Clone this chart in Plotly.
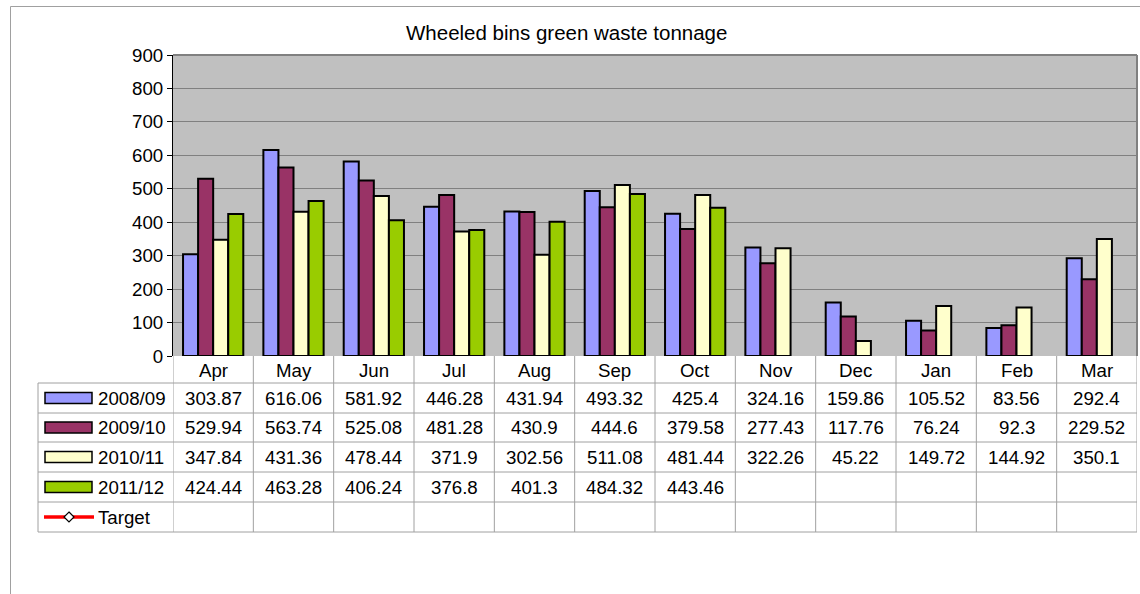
import plotly.graph_objects as go

months = ["Apr", "May", "Jun", "Jul", "Aug", "Sep", "Oct", "Nov", "Dec", "Jan", "Feb", "Mar"]
s2008 = [303.87, 616.06, 581.92, 446.28, 431.94, 493.32, 425.4, 324.16, 159.86, 105.52, 83.56, 292.4]
s2009 = [529.94, 563.74, 525.08, 481.28, 430.9, 444.6, 379.58, 277.43, 117.76, 76.24, 92.3, 229.52]
s2010 = [347.84, 431.36, 478.44, 371.9, 302.56, 511.08, 481.44, 322.26, 45.22, 149.72, 144.92, 350.1]
s2011 = [424.44, 463.28, 406.24, 376.8, 401.3, 484.32, 443.46, None, None, None, None, None]
series_names = ["2008/09", "2009/10", "2010/11", "2011/12"]
series_vals = [s2008, s2009, s2010, s2011]
colors = ["#9999FF", "#993366", "#FFFFCC", "#99CC00"]
y_ticks = [0, 100, 200, 300, 400, 500, 600, 700, 800, 900]

W, H = 1140, 594
L, R, T, B = 173, 3, 55, 238
PW = W - L - R
PH = H - T - B

def py(pix):
    return (H - B - pix) / PH

def px(pix):
    return (pix - L) / PW

FONT = "Liberation Sans, Arial, sans-serif"
FS = 18.7

fig = go.Figure()
for name, vals, c in zip(series_names, series_vals, colors):
    fig.add_trace(go.Bar(x=months, y=vals, name=name, marker=dict(color=c, line=dict(color="black", width=2)),
                         showlegend=False))

shapes = []
annotations = []

def txt(x, y, text, xref="paper", xanchor="center", size=FS):
    annotations.append(dict(x=x, y=y, xref=xref, yref="paper", text=text, showarrow=False,
                            xanchor=xanchor, yanchor="middle",
                            font=dict(size=size, color="black", family=FONT)))

# outer border
shapes.append(dict(type="rect", xref="paper", yref="paper", x0=px(10.5), x1=px(1141), y0=py(596), y1=py(6.5),
                   line=dict(color="#A0A0A0", width=1), fillcolor="rgba(0,0,0,0)", layer="below"))

# plot-area frame (top and right)
shapes.append(dict(type="line", xref="paper", yref="paper", x0=0, x1=1, y0=1, y1=1,
                   line=dict(color="#808080", width=2)))
shapes.append(dict(type="line", xref="paper", yref="paper", x0=1, x1=1, y0=0, y1=1,
                   line=dict(color="#808080", width=2)))

grid_col = "#A0A0A0"
row_lines = [383, 413, 442, 472, 502, 532]
for yl in row_lines:
    shapes.append(dict(type="line", xref="paper", yref="paper", x0=px(38), x1=px(1137), y0=py(yl), y1=py(yl),
                       line=dict(color=grid_col, width=1)))
# left border of table
shapes.append(dict(type="line", xref="paper", yref="paper", x0=px(38), x1=px(38), y0=py(383), y1=py(532),
                   line=dict(color=grid_col, width=1)))
# column boundaries
for i in range(len(months) + 1):
    shapes.append(dict(type="line", xref="x", yref="paper", x0=i - 0.5, x1=i - 0.5, y0=py(356), y1=py(532),
                       line=dict(color=grid_col, width=1)))

# month header
for m in months:
    txt(m, py(370), m, xref="x")

row_centers = [398, 427.5, 457, 487, 517]
for r, (name, vals, c) in enumerate(zip(series_names, series_vals, colors)):
    yc = row_centers[r]
    for m, v in zip(months, vals):
        if v is not None:
            txt(m, py(yc), f"{v:g}", xref="x")
    shapes.append(dict(type="rect", xref="paper", yref="paper", x0=px(45), x1=px(92), y0=py(yc + 5.5), y1=py(yc - 5.5),
                       fillcolor=c, line=dict(color="black", width=1.5)))
    txt(px(96), py(yc), name, xanchor="left")

# Target legend entry
yc = row_centers[4]
shapes.append(dict(type="line", xref="paper", yref="paper", x0=px(44), x1=px(94), y0=py(yc), y1=py(yc),
                   line=dict(color="red", width=3.5)))
shapes.append(dict(type="path", xref="paper", yref="paper",
                   path=f"M {px(69)},{py(yc-5)} L {px(74)},{py(yc)} L {px(69)},{py(yc+5)} L {px(64)},{py(yc)} Z",
                   fillcolor="white", line=dict(color="black", width=1.2)))
txt(px(96), py(yc), "Target", xanchor="left")

# title
txt(px(566), py(32), "Wheeled bins green waste tonnage", size=20.5)

fig.update_layout(
    width=W, height=H,
    margin=dict(l=L, r=R, t=T, b=B, pad=0),
    barmode="group", bargap=0.25, bargroupgap=0,
    plot_bgcolor="#C0C0C0", paper_bgcolor="white",
    font=dict(family=FONT, size=FS, color="black"),
    xaxis=dict(showticklabels=False, ticks="", showgrid=False, zeroline=False, showline=False,
               range=[-0.5, 11.5]),
    yaxis=dict(range=[0, 900], tickvals=y_ticks, ticks="outside", ticklen=5, tickcolor="black",
               showgrid=True, gridcolor="#808080", gridwidth=1, showline=True, linecolor="black", linewidth=1,
               zeroline=False, tickfont=dict(size=FS, family=FONT, color="black")),
    shapes=shapes, annotations=annotations,
)
fig.write_html("out.html", config={"displayModeBar": False},
               post_script="document.body.style.margin='0';document.body.style.overflow='hidden';")
